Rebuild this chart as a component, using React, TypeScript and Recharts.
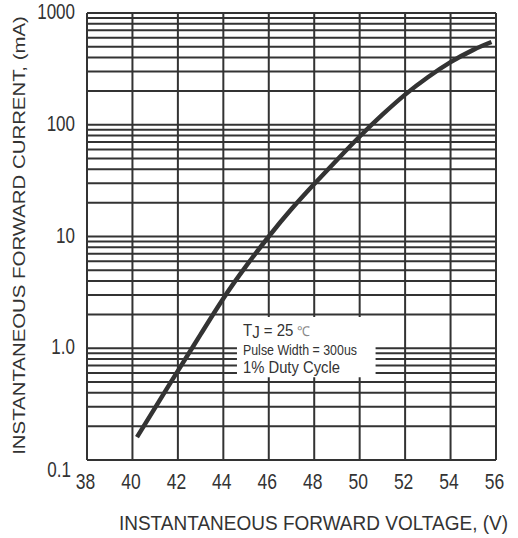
import React from "react";
import {
  LineChart,
  Line,
  XAxis,
  YAxis,
  CartesianGrid,
  ReferenceArea,
  Label,
} from "recharts";

// Forward voltage (V) vs forward current (mA)
const voltage = [40.2, 41, 42, 43, 44, 45, 46, 47, 48, 49, 50, 51, 52, 53, 54, 55, 55.8];
const current = [0.16, 0.294, 0.628, 1.33, 2.79, 5.43, 10, 17.6, 29.5, 48.4, 78.5, 123, 186, 266, 363, 468, 550];

const xTicks = [38, 40, 42, 44, 46, 48, 50, 52, 54, 56];
const yTicks = [
  0.1, 0.2, 0.3, 0.4, 0.5, 0.6, 0.7, 0.8, 0.9,
  1, 2, 3, 4, 5, 6, 7, 8, 9,
  10, 20, 30, 40, 50, 60, 70, 80, 90,
  100, 200, 300, 400, 500, 600, 700, 800, 900,
  1000,
];
const yLabels: Record<string, string> = {
  "0.1": "0.1",
  "1": "1.0",
  "10": "10",
  "100": "100",
  "1000": "1000",
};

const INK = "#333333";
const FONT = "'Liberation Sans', Arial, sans-serif";

const data = voltage.map((v, i) => ({ v, i: current[i] }));

// the scanned datasheet text is a bit taller than it is wide
const Tall = ({ x, y, sy = 1.25, size, anchor = "start", children, fill = INK }: any) => (
  <text
    transform={`translate(${x},${y}) scale(1,${sy})`}
    textAnchor={anchor}
    fill={fill}
    fontSize={size}
    fontFamily={FONT}
  >
    {children}
  </text>
);

const YTick = (props: any) => {
  const { x, y, payload } = props;
  const text = yLabels[String(payload.value)];
  if (!text) return null;
  const low = payload.value === 0.1;
  return (
    <Tall x={x - (low ? 14 : 10)} y={y + (low ? 17 : 6)} size={17} sy={1.28} anchor="end">
      {text}
    </Tall>
  );
};

const XTick = (props: any) => {
  const { x, y, payload } = props;
  return (
    <Tall x={x - 1.5} y={y + 27} size={17.5} sy={1.25} anchor="middle">
      {payload.value}
    </Tall>
  );
};

const XTitle = (props: any) => {
  const { x, y, width } = props.viewBox;
  return (
    <Tall x={x + width / 2 + 22} y={y + 70} size={19} sy={1.1} anchor="middle">
      INSTANTANEOUS FORWARD VOLTAGE, (V)
    </Tall>
  );
};

const YTitle = (props: any) => {
  const { y, height } = props.viewBox;
  const cy = y + height / 2 - 1;
  return (
    <text
      transform={`translate(25,${cy}) rotate(-90) scale(1.2,1)`}
      textAnchor="middle"
      fill={INK}
      fontSize={17}
      fontFamily={FONT}
    >
      INSTANTANEOUS FORWARD CURRENT, (mA)
    </text>
  );
};

const Note = (props: any) => {
  const { x, y } = props.viewBox;
  return (
    <g>
      <Tall x={x + 6} y={y + 19} size={15} sy={1.05}>
        T<tspan dy={1.5}>J</tspan>
        <tspan dy={-1.5}> = 25</tspan>
        <tspan fontSize={13} fill="#888"> ℃</tspan>
      </Tall>
      <Tall x={x + 6} y={y + 37.5} size={12.4} sy={1.12}>
        Pulse Width = 300us
      </Tall>
      <Tall x={x + 6} y={y + 56} size={14.8} sy={1.1}>
        1% Duty Cycle
      </Tall>
    </g>
  );
};

export default function App() {
  return (
    <div style={{ position: "absolute", left: 0, top: 0, background: "#fff" }}>
      <LineChart
        width={518}
        height={538}
        data={data}
        margin={{ top: 13, right: 22, left: 0, bottom: 0 }}
      >
        <CartesianGrid stroke={INK} strokeWidth={2} />
        <XAxis
          dataKey="v"
          type="number"
          domain={[38, 56]}
          ticks={xTicks}
          interval={0}
          tickLine={false}
          axisLine={false}
          tickSize={0}
          height={78}
          tick={<XTick />}
        >
          <Label content={<XTitle />} />
        </XAxis>
        <YAxis
          dataKey="i"
          scale="log"
          type="number"
          domain={[0.1, 1000]}
          ticks={yTicks}
          interval={0}
          allowDataOverflow
          tickLine={false}
          axisLine={false}
          tickSize={0}
          width={87}
          tick={<YTick />}
        >
          <Label content={<YTitle />} />
        </YAxis>
        <ReferenceArea
          x1={44.6}
          x2={50.7}
          y1={0.55}
          y2={1.9}
          fill="#ffffff"
          fillOpacity={1}
          stroke="none"
          label={<Note />}
        />
        <Line
          type="natural"
          dataKey="i"
          stroke={INK}
          strokeWidth={4.5}
          dot={false}
          isAnimationActive={false}
        />
      </LineChart>
    </div>
  );
}
